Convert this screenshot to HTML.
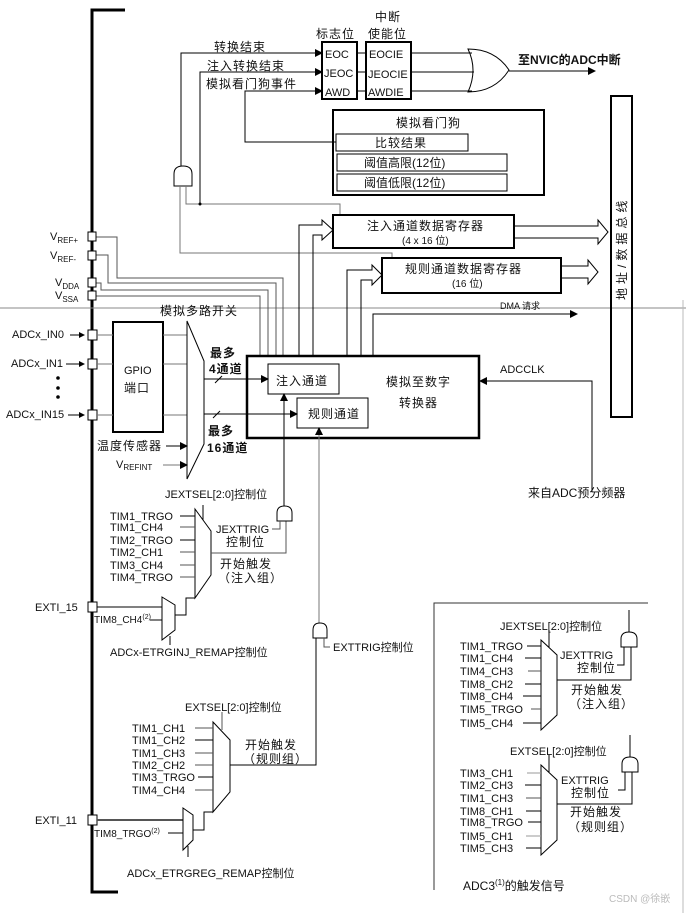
<!DOCTYPE html>
<html><head><meta charset="utf-8"><style>
html,body{margin:0;padding:0;background:#fff}
svg text{font-family:"Liberation Sans","Noto Sans CJK SC",sans-serif;font-size:11px;fill:#111}
.c{font-size:12px;letter-spacing:1px}
</style></head><body>
<svg width="686" height="913" viewBox="0 0 686 913" xmlns="http://www.w3.org/2000/svg">
<defs>
<marker id="a" markerWidth="8" markerHeight="8" refX="7" refY="4" orient="auto" markerUnits="userSpaceOnUse"><path d="M0,0L8,4L0,8z" fill="#000"/></marker>
<marker id="s" markerWidth="6" markerHeight="6" refX="5" refY="3" orient="auto" markerUnits="userSpaceOnUse"><path d="M0,0L6,3L0,6z" fill="#000"/></marker>
</defs>
<g fill="none" stroke="#000" stroke-width="1">
<path d="M125,10H92V892H118" stroke-width="3"/>
<line x1="0" y1="308" x2="686" y2="308" stroke="#888"/>
<line x1="683" y1="300" x2="683" y2="913" stroke="#bbb"/>
<rect x="322" y="42" width="35" height="57" stroke-width="2"/>
<rect x="366" y="42" width="45" height="57" stroke-width="2"/>
<line x1="357" y1="53" x2="366" y2="53"/><line x1="357" y1="72" x2="366" y2="72"/><line x1="357" y1="91" x2="366" y2="91"/>
<line x1="411" y1="53" x2="472" y2="53"/><line x1="411" y1="72" x2="474" y2="72"/><line x1="411" y1="91" x2="472" y2="91"/>
<path d="M468,49Q478,70 468,92Q495,92 509,70Q495,49 468,49z"/>
<line x1="509" y1="71" x2="595" y2="71" marker-end="url(#a)"/>
<path d="M181,166V53H322" marker-end="url(#a)"/>
<path d="M200,204V72H322" marker-end="url(#a)"/>
<path d="M336,142H245V91H322" marker-end="url(#a)"/>
<rect x="333" y="110" width="211" height="85" stroke-width="2"/>
<rect x="336" y="134" width="132" height="17"/>
<rect x="337" y="154" width="170" height="17"/>
<rect x="337" y="174" width="170" height="17"/>
<path d="M174,186V174Q174,166 183,166Q192,166 192,174V186z"/>
<path d="M180,186V253H392V258" stroke="#777"/>
<path d="M186,186V204H340V215" stroke="#777"/>
<rect x="333" y="215" width="181" height="33" stroke-width="2"/>
<rect x="382" y="258" width="179" height="35" stroke-width="2"/>
<path d="M514,226H598V220L608,232L598,244V238H514" />
<path d="M561,266H588V260L598,272L588,284V278H561"/>
<rect x="611" y="96" width="21" height="321" stroke-width="2"/>
<path d="M299,356V225H322V220L333,230L322,240V235H313V356"/>
<path d="M347,356V270H372V265L382,275L372,285V280H361V356"/>
<path d="M373,356V314H577" marker-end="url(#a)"/>
<path d="M96,237H117V278H283V356" stroke="#555"/>
<path d="M96,255H108V283H276V356" stroke="#555"/>
<path d="M96,283H101V290H268V356" stroke="#555"/>
<path d="M96,296H260V356" stroke="#555"/>
<path d="M247,356H479V438H247z" stroke-width="2.5"/>
<rect x="268" y="364" width="71" height="30"/>
<rect x="297" y="398" width="71" height="30"/>
<path d="M592,492V381H480" marker-end="url(#a)"/>
<g fill="#fff"><rect x="88" y="232" width="8" height="9"/><rect x="88" y="251" width="8" height="9"/><rect x="88" y="278" width="8" height="9"/><rect x="88" y="291" width="8" height="9"/>
<rect x="88" y="330" width="9" height="10"/><rect x="88" y="359" width="9" height="10"/><rect x="88" y="410" width="9" height="10"/><rect x="88" y="602" width="9" height="10"/><rect x="88" y="815" width="9" height="10"/></g>
<line x1="70" y1="335" x2="84" y2="335" marker-end="url(#s)"/><line x1="66" y1="364" x2="84" y2="364" marker-end="url(#s)"/><line x1="68" y1="415" x2="84" y2="415" marker-end="url(#s)"/>
<rect x="113" y="322" width="50" height="110" stroke-width="2"/>
<g stroke="#777"><line x1="97" y1="335" x2="113" y2="335"/><line x1="97" y1="364" x2="113" y2="364"/><line x1="97" y1="415" x2="113" y2="415"/>
<line x1="163" y1="335" x2="187" y2="335"/><line x1="163" y1="364" x2="187" y2="364"/><line x1="163" y1="415" x2="187" y2="415"/></g>
<path d="M187,321L204,361V444L187,479z"/>
<line x1="166" y1="446" x2="187" y2="446" marker-end="url(#a)"/>
<line x1="163" y1="465" x2="187" y2="465" stroke="#777" marker-end="url(#a)"/>
<line x1="204" y1="379" x2="268" y2="379" marker-end="url(#a)"/>
<line x1="204" y1="414" x2="297" y2="414" marker-end="url(#a)"/>
<line x1="215" y1="383" x2="222" y2="376"/><line x1="213" y1="418" x2="220" y2="411"/>
<path d="M195,509L211,531V575L195,598z"/>
<line x1="203" y1="505" x2="203" y2="520"/>
<g stroke="#555"><line x1="180" y1="516" x2="195" y2="516" stroke="#000"/><line x1="180" y1="527" x2="195" y2="527"/><line x1="180" y1="540" x2="195" y2="540" stroke="#000"/><line x1="180" y1="552" x2="195" y2="552"/><line x1="180" y1="565" x2="195" y2="565"/><line x1="180" y1="577" x2="195" y2="577"/></g>
<path d="M211,553H286V521" stroke="#555"/>
<path d="M277,521V513Q277,506 284.5,506Q292,506 292,513V521z"/>
<path d="M272,529H280V521" stroke="#555"/>
<line x1="284" y1="506" x2="284" y2="394" marker-end="url(#a)"/>
<line x1="97" y1="607" x2="162" y2="607"/>
<path d="M162,597L175,605V630L162,640z"/>
<path d="M175,615H186V598H195"/>
<line x1="170" y1="636" x2="170" y2="645"/>
<line x1="150" y1="620" x2="162" y2="620"/>
<line x1="319" y1="623" x2="319" y2="428" stroke="#777" marker-end="url(#a)"/>
<path d="M313,638V630Q313,623 320,623Q327,623 327,630V638z"/>
<path d="M330,647H324V638" stroke="#555"/>
<path d="M316,638V765H230"/>
<path d="M213,722L230,740V792L213,812z"/>
<line x1="222" y1="712" x2="222" y2="730" stroke="#555"/>
<g stroke="#555"><line x1="195" y1="728" x2="213" y2="728"/><line x1="195" y1="740" x2="213" y2="740" stroke="#000"/><line x1="195" y1="753" x2="213" y2="753"/><line x1="195" y1="765" x2="213" y2="765"/><line x1="198" y1="777" x2="213" y2="777" stroke="#000"/><line x1="195" y1="790" x2="213" y2="790"/></g>
<line x1="97" y1="820" x2="183" y2="820" stroke="#555" stroke-width="2"/>
<path d="M183,808L193,815V840L183,850z"/>
<path d="M193,830H204V812H213"/>
<line x1="168" y1="833" x2="183" y2="833"/>
<line x1="188" y1="846" x2="188" y2="857"/>
<path d="M434,890V603H648" stroke="#333"/>
<path d="M541,640L557,655V715L541,730z"/>
<line x1="549" y1="630" x2="549" y2="647"/>
<g><line x1="527" y1="646" x2="541" y2="646"/><line x1="525" y1="658" x2="541" y2="658"/><line x1="528" y1="671" x2="541" y2="671" stroke="#555"/><line x1="525" y1="684" x2="541" y2="684"/><line x1="523" y1="696" x2="541" y2="696"/><line x1="531" y1="709" x2="541" y2="709" stroke="#555"/><line x1="523" y1="723" x2="541" y2="723"/></g>
<path d="M557,680H631V647"/>
<path d="M621,647V639Q621,632 629,632Q637,632 637,639V647z"/>
<path d="M617,665H624V647"/>
<line x1="629" y1="632" x2="629" y2="610"/>
<path d="M541,765L557,780V840L541,855z"/>
<line x1="549" y1="755" x2="549" y2="772"/>
<g><line x1="527" y1="773" x2="541" y2="773" stroke="#999"/><line x1="525" y1="785" x2="541" y2="785"/><line x1="526" y1="798" x2="541" y2="798" stroke="#555"/><line x1="526" y1="811" x2="541" y2="811"/><line x1="528" y1="822" x2="541" y2="822"/><line x1="526" y1="836" x2="541" y2="836" stroke="#999"/><line x1="526" y1="848" x2="541" y2="848"/></g>
<path d="M557,804H632V772"/>
<path d="M622,772V764Q622,757 630,757Q638,757 638,764V772z"/>
<path d="M618,790H625V772"/>
<line x1="630" y1="757" x2="630" y2="735"/>
</g>
<circle cx="200" cy="204" r="1.5"/>
<g fill="#000">
<circle cx="58" cy="378" r="1.8"/><circle cx="58" cy="388" r="1.8"/><circle cx="58" cy="397" r="1.8"/>
</g>
<text x="375" y="21" class="c">中断</text>
<text x="316" y="38" class="c">标志位</text><text x="368" y="38" class="c">使能位</text>
<text x="325" y="58">EOC</text><text x="369" y="58">EOCIE</text>
<text x="324" y="77">JEOC</text><text x="368" y="78">JEOCIE</text>
<text x="325" y="96">AWD</text><text x="368" y="96">AWDIE</text>
<text x="518" y="64" class="c" style="font-weight:bold;letter-spacing:0">至NVIC的ADC中断</text>
<text x="214" y="51" class="c">转换结束</text>
<text x="207" y="70" class="c">注入转换结束</text>
<text x="206" y="88" class="c">模拟看门狗事件</text>
<text x="396" y="127" class="c">模拟看门狗</text>
<text x="375" y="147" class="c">比较结果</text>
<text x="364" y="167" class="c" style="letter-spacing:0">阈值高限(12位)</text>
<text x="364" y="187" class="c" style="letter-spacing:0">阈值低限(12位)</text>
<text x="367" y="230" class="c">注入通道数据寄存器</text>
<text x="402" y="244" style="font-size:10px">(4 x 16 位)</text>
<text x="405" y="273" class="c">规则通道数据寄存器</text>
<text x="452" y="287" style="font-size:10px">(16 位)</text>
<text x="500" y="309" style="font-size:9px">DMA 请求</text>
<text transform="translate(626,300) rotate(-90)" class="c" style="letter-spacing:4px">地址/数据总线</text>
<text x="50" y="240">V<tspan style="font-size:8px" dy="3">REF+</tspan></text>
<text x="50" y="259">V<tspan style="font-size:8px" dy="3">REF-</tspan></text>
<text x="55" y="286">V<tspan style="font-size:8px" dy="3">DDA</tspan></text>
<text x="55" y="299">V<tspan style="font-size:8px" dy="3">SSA</tspan></text>
<text x="160" y="315" class="c">模拟多路开关</text>
<text x="12" y="338">ADCx_IN0</text><text x="11" y="367">ADCx_IN1</text><text x="6" y="418">ADCx_IN15</text>
<text x="124" y="374">GPIO</text><text x="124" y="392" class="c">端口</text>
<text x="210" y="357" class="c" style="font-weight:bold">最多</text><text x="209" y="373" class="c" style="font-weight:bold">4通道</text>
<text x="208" y="435" class="c" style="font-weight:bold">最多</text><text x="207" y="452" class="c" style="font-weight:bold">16通道</text>
<text x="97" y="450" class="c">温度传感器</text>
<text x="116" y="468">V<tspan style="font-size:8px" dy="2">REFINT</tspan></text>
<text x="276" y="385" class="c">注入通道</text>
<text x="308" y="418" class="c">规则通道</text>
<text x="386" y="386" class="c">模拟至数字</text>
<text x="399" y="407" class="c">转换器</text>
<text x="500" y="373">ADCCLK</text>
<text x="528" y="497" class="c" style="letter-spacing:0">来自ADC预分频器</text>
<text x="165" y="498">JEXTSEL[2:0]控制位</text>
<text x="110" y="520">TIM1_TRGO</text><text x="110" y="531">TIM1_CH4</text><text x="110" y="544">TIM2_TRGO</text><text x="110" y="556">TIM2_CH1</text><text x="110" y="569">TIM3_CH4</text><text x="110" y="581">TIM4_TRGO</text>
<text x="216" y="533">JEXTTRIG</text><text x="226" y="546" class="c">控制位</text>
<text x="220" y="568" class="c">开始触发</text><text x="218" y="582" class="c">（注入组）</text>
<text x="35" y="611">EXTI_15</text>
<text x="94" y="623" style="font-size:10px">TIM8_CH4<tspan dy="-4" style="font-size:7px">(2)</tspan></text>
<text x="110" y="656">ADCx-ETRGINJ_REMAP控制位</text>
<text x="333" y="651">EXTTRIG控制位</text>
<text x="185" y="711">EXTSEL[2:0]控制位</text>
<text x="132" y="732">TIM1_CH1</text><text x="132" y="744">TIM1_CH2</text><text x="132" y="757">TIM1_CH3</text><text x="132" y="769">TIM2_CH2</text><text x="132" y="781">TIM3_TRGO</text><text x="132" y="794">TIM4_CH4</text>
<text x="245" y="749" class="c">开始触发</text><text x="243" y="763" class="c">（规则组）</text>
<text x="35" y="824">EXTI_11</text>
<text x="94" y="837" style="font-size:10px">TIM8_TRGO<tspan dy="-4" style="font-size:7px">(2)</tspan></text>
<text x="127" y="877">ADCx_ETRGREG_REMAP控制位</text>
<text x="500" y="630">JEXTSEL[2:0]控制位</text>
<text x="460" y="650">TIM1_TRGO</text><text x="460" y="662">TIM1_CH4</text><text x="460" y="675">TIM4_CH3</text><text x="460" y="688">TIM8_CH2</text><text x="460" y="700">TIM8_CH4</text><text x="460" y="713">TIM5_TRGO</text><text x="460" y="727">TIM5_CH4</text>
<text x="560" y="659">JEXTTRIG</text><text x="577" y="672" class="c">控制位</text>
<text x="571" y="694" class="c">开始触发</text><text x="569" y="708" class="c">（注入组）</text>
<text x="510" y="755">EXTSEL[2:0]控制位</text>
<text x="460" y="777">TIM3_CH1</text><text x="460" y="789">TIM2_CH3</text><text x="460" y="802">TIM1_CH3</text><text x="460" y="815">TIM8_CH1</text><text x="460" y="826">TIM8_TRGO</text><text x="460" y="840">TIM5_CH1</text><text x="460" y="852">TIM5_CH3</text>
<text x="561" y="784">EXTTRIG</text><text x="571" y="797" class="c">控制位</text>
<text x="570" y="816" class="c">开始触发</text><text x="568" y="831" class="c">（规则组）</text>
<text x="463" y="890" class="c" style="letter-spacing:0">ADC3<tspan dy="-5" style="font-size:8px">(1)</tspan><tspan dy="5">的触发信号</tspan></text>
<text x="609" y="902" style="font-size:10px;fill:#bbb">CSDN @徐嵌</text>
</svg>
</body></html>
